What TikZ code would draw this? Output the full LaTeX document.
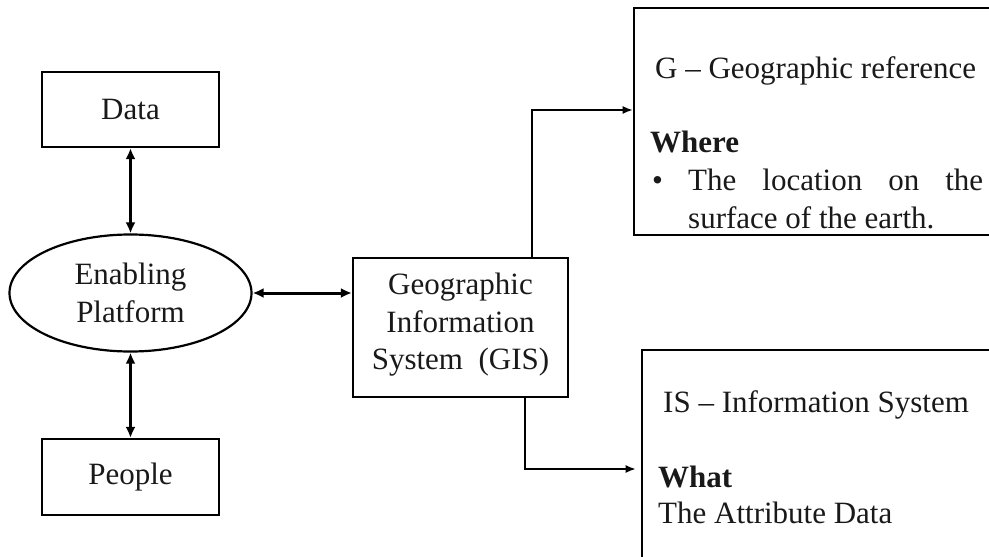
\documentclass[tikz,border=0pt]{standalone}
\usepackage{fontspec}
\setmainfont{Liberation Serif}
\usetikzlibrary{arrows.meta,shapes.geometric}
\begin{document}
\begin{tikzpicture}[x=1pt,y=-1pt,
  every node/.style={font=\fontsize{31}{37.5}\selectfont, text=black!90},
  box/.style={draw, line width=2.2pt, inner sep=0pt},
  biarrow/.style={line width=3pt, {Latex[length=11pt,width=10pt]}-{Latex[length=11pt,width=10pt]}},
  conn/.style={line width=1.7pt, -{Latex[length=10pt,width=8pt]}},
  lbl/.style={anchor=base west, inner sep=0pt}]
\useasboundingbox (0,0) rectangle (989,557);
\clip (0,0) rectangle (989,557);

% left column
\node[box, minimum width=177pt, minimum height=75pt] (data) at (130.5,109.5) {Data};
\node[box, ellipse, minimum width=242pt, minimum height=117pt, align=center] (ell) at (130.5,293) {Enabling\\Platform};
\node[box, minimum width=177pt, minimum height=76pt] (people) at (130.5,477) {People};

% central GIS box
\node[box, minimum width=215pt, minimum height=139pt] (gis) at (460.5,327.5) {};
\node[align=center, inner sep=0pt] (gistext) at (460.5,325) {Geographic\\Information\\System\enspace(GIS)};

% right-hand boxes
\node[box, line width=2.6pt, minimum width=380pt, minimum height=227pt] (geo) at (824,121.5) {};
\node[box, line width=2.6pt, minimum width=380pt, minimum height=260pt] (is) at (832,480) {};

\node[lbl] (g1) at (655,78) {G -- Geographic reference};
\node[lbl] (g2) at (650,152) {\textbf{Where}};
\node[lbl] (g3) at (652,190) {\textbullet};
\node[lbl] (g4) at (688,190) {\makebox[295pt][s]{The location on the}};
\node[lbl] (g5) at (688,228) {surface of the earth.};

\node[lbl] (i1) at (663,412) {IS -- Information System};
\node[lbl] (i2) at (658,487) {\textbf{What}};
\node[lbl] (i3) at (658,523) {The Attribute Data};

% connectors
\draw[biarrow] (data.south) -- (ell.north);
\draw[biarrow] (ell.east) -- (ell.east -| gis.west);
\draw[biarrow] (ell.south) -- (people.north);
\draw[conn] (gis.north -| 532,0) |- (geo.west |- 0,110);
\draw[conn, shorten >=5pt] (gis.south -| 525,0) |- (is.west |- 0,469);
\end{tikzpicture}
\end{document}
